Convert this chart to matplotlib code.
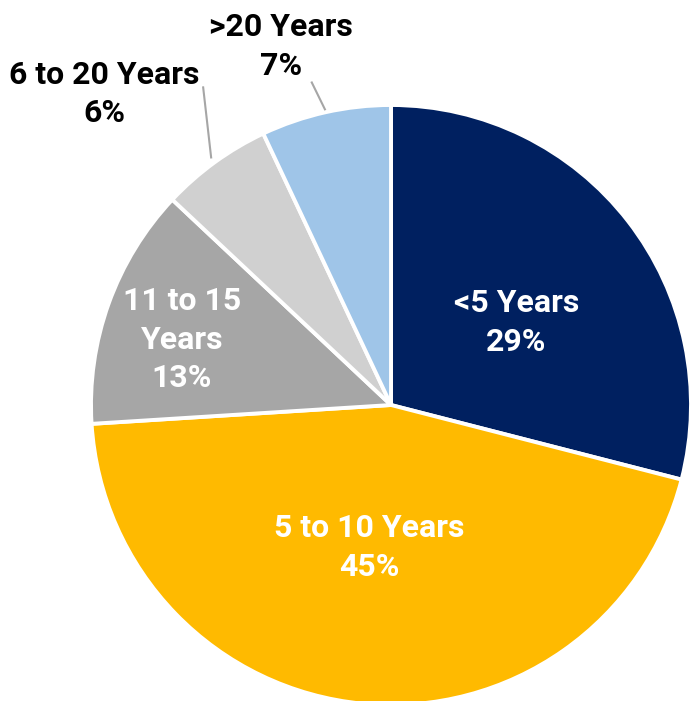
import numpy as np
import matplotlib

matplotlib.use("Agg")
import matplotlib.pyplot as plt

plt.rcParams["font.family"] = ["Roboto", "DejaVu Sans"]

labels = ["<5 Years", "5 to 10 Years", "11 to 15\nYears", "6 to 20 Years", ">20 Years"]
shares = [29, 45, 13, 6, 7]
colors = ["#002060", "#FFBA00", "#A6A6A6", "#D0D0D0", "#9FC5E8"]

# label placement: radius (in pie radii), angle shift (deg), text colour, leader line
label_radius = [0.50, 0.48, 0.73, 1.41, 1.25]
label_shift = [-4.4, -3.1, 2.4, 6.7, 4.4]
text_colors = ["white", "white", "white", "black", "black"]
leader = [None, None, None, (1.02, 1.23, -5.4), (1.01, 1.107, 1.2)]

W, H = 690, 701
R = 300.0
cx, cy = 391, 405

fig = plt.figure(figsize=(W / 100, H / 100), dpi=100)
ax = fig.add_axes([0, 0, 1, 1])
wedges, _ = ax.pie(
    shares,
    colors=colors,
    startangle=90,
    counterclock=False,
    radius=1.0,
    wedgeprops=dict(edgecolor="white", linewidth=2.8),
)
ax.set_xlim(-cx / R, (W - cx) / R)
ax.set_ylim(-(H - cy) / R, cy / R)
ax.set_aspect("auto")
ax.axis("off")

for i, w in enumerate(wedges):
    mid = (w.theta1 + w.theta2) / 2
    ang = np.deg2rad(mid + label_shift[i])
    r = label_radius[i]
    ax.text(
        r * np.cos(ang),
        r * np.sin(ang),
        f"{labels[i]}\n{shares[i]}%",
        ha="center",
        va="center",
        color=text_colors[i],
        fontsize=23,
        fontweight="bold",
        linespacing=1.35,
    )
    if leader[i] is not None:
        r0, r1, dang = leader[i]
        a0 = np.deg2rad(mid)
        a1 = np.deg2rad(mid + dang)
        ax.plot(
            [r0 * np.cos(a0), r1 * np.cos(a1)],
            [r0 * np.sin(a0), r1 * np.sin(a1)],
            color="#A6A6A6",
            linewidth=1.5,
        )

fig.savefig("out.png", dpi=100)
